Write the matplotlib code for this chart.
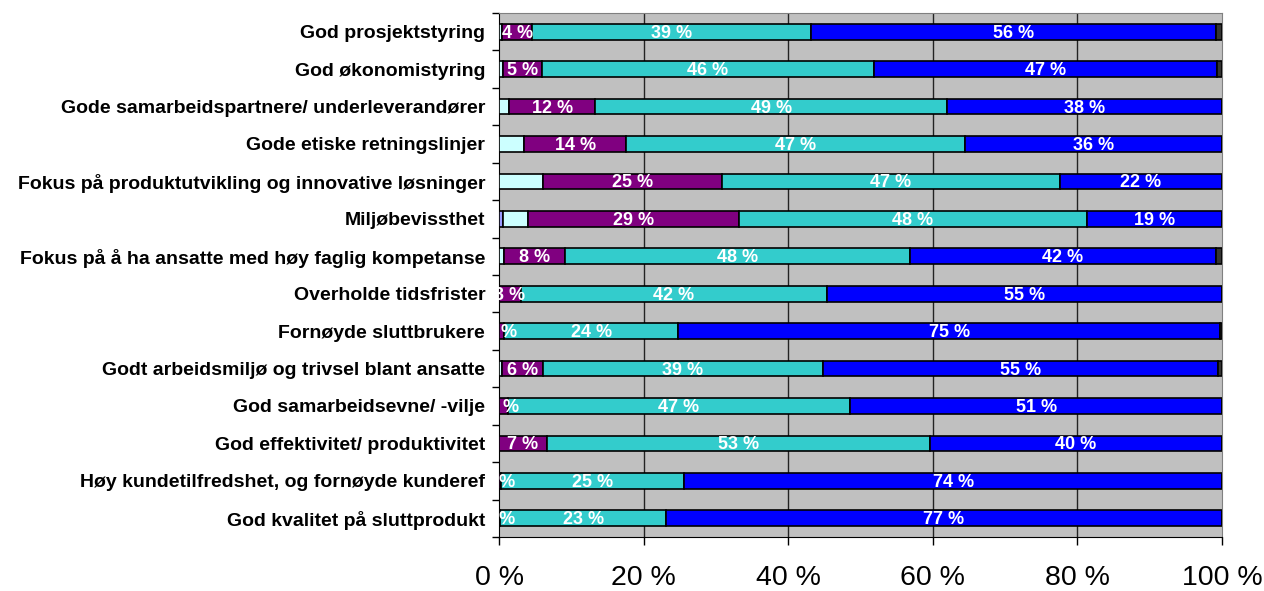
import numpy as np
import matplotlib
matplotlib.use('Agg')
import matplotlib.pyplot as plt

plt.rcParams['font.family'] = ['Liberation Sans', 'DejaVu Sans']

# Categories (top to bottom)
categories = [
    'God prosjektstyring',
    'God økonomistyring',
    'Gode samarbeidspartnere/ underleverandører',
    'Gode etiske retningslinjer',
    'Fokus på produktutvikling og innovative løsninger',
    'Miljøbevissthet',
    'Fokus på å ha ansatte med høy faglig kompetanse',
    'Overholde tidsfrister',
    'Fornøyde sluttbrukere',
    'Godt arbeidsmiljø og trivsel blant ansatte',
    'God samarbeidsevne/ -vilje',
    'God effektivitet/ produktivitet',
    'Høy kundetilfredshet, og fornøyde kunderef',
    'God kvalitet på sluttprodukt',
]

# Shares in percent, one list per answer category
s_periwinkle = [0.0, 0.0, 0.0, 0.0, 0.0, 0.5, 0.0, 0.0, 0.0, 0.0, 0.0, 0.0, 0.0, 0.0]
s_lightcyan = [0.4, 0.5, 1.4, 3.5, 6.1, 3.5, 0.7, 0.0, 0.0, 0.4, 0.0, 0.0, 0.0, 0.0]
s_purple = [4.2, 5.4, 11.9, 14.1, 24.7, 29.2, 8.4, 3.0, 0.7, 5.7, 1.2, 6.6, 0.3, 0.2]
s_turq = [38.6, 46.0, 48.7, 46.9, 46.8, 48.1, 47.7, 42.4, 24.1, 38.7, 47.4, 53.0, 25.3, 22.9]
s_blue = [56.0, 47.4, 38.0, 35.5, 22.4, 18.7, 42.3, 54.6, 74.9, 54.6, 51.4, 40.4, 74.4, 76.9]
s_gray = [0.8, 0.7, 0.0, 0.0, 0.0, 0.0, 0.9, 0.0, 0.3, 0.6, 0.0, 0.0, 0.0, 0.0]

series = [s_periwinkle, s_lightcyan, s_purple, s_turq, s_blue, s_gray]
colors = ['#9999FF', '#CCFFFF', '#800080', '#33CCCC', '#0000FF', '#333333']
labelled = [False, False, True, True, True, False]

fig = plt.figure(figsize=(12.64, 5.91), dpi=100)
ax = fig.add_axes([0.3948, 0.0914, 0.9668 - 0.3948, 0.9780 - 0.0914])
ax.set_facecolor('#C0C0C0')

y = np.arange(len(categories))
left = np.zeros(len(categories))
for vals, col, lab in zip(series, colors, labelled):
    vals = np.array(vals)
    ax.barh(y, vals, left=left, height=0.42, color=col, edgecolor='black',
            linewidth=1.2, zorder=3)
    if lab:
        for yi, l, v in zip(y, left, vals):
            ax.text(l + v / 2, yi + 0.04, f'{int(round(v))} %', ha='center', va='center',
                    color='white', fontsize=13, fontweight='bold', zorder=5,
                    clip_on=False)
    left += vals

ax.set_xlim(0, 100)
ax.set_ylim(len(categories) - 0.5, -0.5)

# vertical gridlines
for gx in [20, 40, 60, 80]:
    ax.axvline(gx, color='#222222', linewidth=1, zorder=1)

ax.set_xticks([0, 20, 40, 60, 80, 100])
ax.set_xticklabels(['0 %', '20 %', '40 %', '60 %', '80 %', '100 %'], fontsize=20.5)
ax.tick_params(axis='x', direction='out', length=6, width=1, pad=14)

# y ticks at category boundaries, labels at centers
ax.set_yticks(np.arange(len(categories) + 1) - 0.5)
ax.set_yticklabels([])
ax.tick_params(axis='y', which='major', direction='out', length=5, width=1)
ax.set_yticks(y, minor=True)
ax.set_yticklabels(categories, minor=True, fontsize=14, fontweight='bold')
ax.tick_params(axis='y', which='minor', length=0, pad=10)

ax.spines['left'].set_color('black')
ax.spines['bottom'].set_color('black')
ax.spines['top'].set_color('#808080')
ax.spines['right'].set_color('#808080')

fig.savefig('out.png', dpi=100)
